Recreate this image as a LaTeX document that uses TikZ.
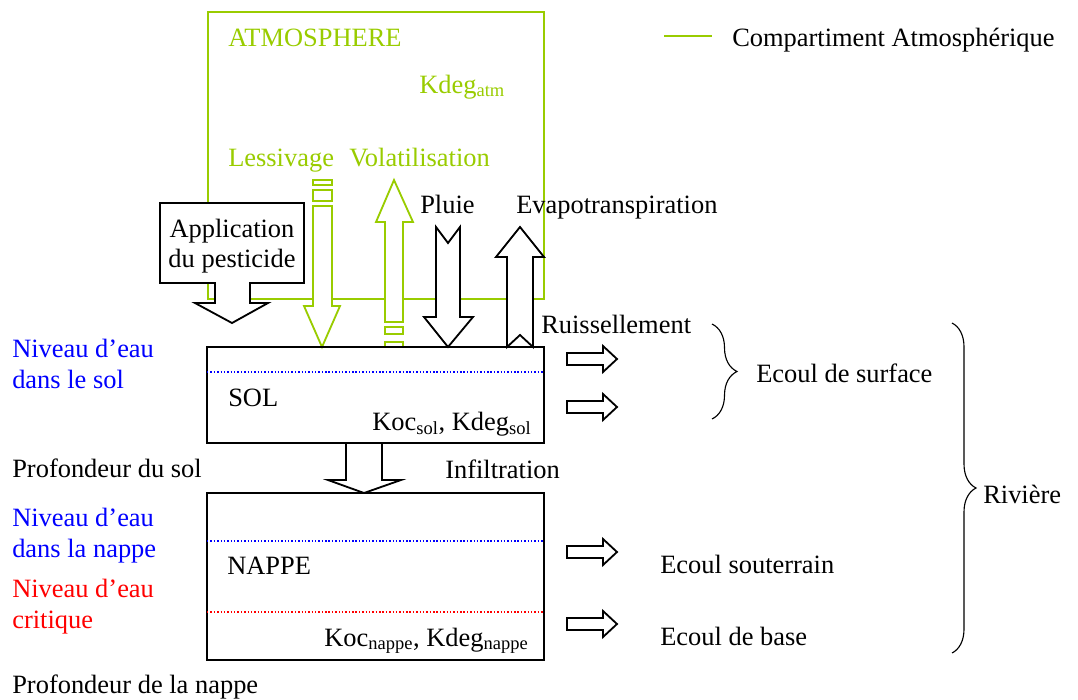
\documentclass[tikz,border=0pt]{standalone}
\usepackage{fontspec}
\setmainfont{Liberation Serif}
\usetikzlibrary{decorations.pathreplacing}
\definecolor{atmgreen}{RGB}{153,204,0}

\begin{document}
\begin{tikzpicture}[x=0.025cm, y=-0.025cm,
  lbl/.style={inner sep=0pt, font=\fontsize{18.8}{21.7}\selectfont},
  blockarrow/.style={draw=black, fill=white, line width=1.3pt, line join=miter},
  atmarrow/.style={blockarrow, draw=atmgreen},
  level/.style={line width=1pt, dash pattern=on 1pt off 1.4pt},
  flowbrace/.style={decorate, line width=0.8pt}]

\useasboundingbox (0,0) rectangle (1078,699);

% Atmosphere compartment and legend
\draw[atmgreen, line width=1.4pt] (208,12) rectangle (544,299);
\draw[atmgreen, line width=1.4pt] (664,36) -- (712,36);
\node[lbl, anchor=base west] (legend) at (732,46) {Compartiment Atmosphérique};
\node[lbl, atmgreen, anchor=base west] (atm) at (228,46) {ATMOSPHERE};
\node[lbl, atmgreen, anchor=base west] (kdegatm) at (419,93) {Kdeg\textsubscript{atm}};
\node[lbl, atmgreen, anchor=base west] (lessiv) at (228,166) {Lessivage};
\node[lbl, atmgreen, anchor=base west] (volat) at (349,166) {Volatilisation};

% Application du pesticide
\draw[blockarrow] (160,203) -- (304,203) -- (304,283) -- (250,283) -- (250,303) -- (268,303) -- (232,323)
  -- (195,303) -- (215,303) -- (215,283) -- (160,283) -- cycle;
\node[lbl, align=center] (appli) at (232,246) {Application\\du pesticide};

% Lessivage (down) and Volatilisation (up)
\draw[atmarrow] (313,180) rectangle (332,185);
\draw[atmarrow] (313,190) rectangle (332,201);
\draw[atmarrow] (313,206) -- (332,206) -- (332,306) -- (340,306) -- (322,347) -- (304,306) -- (313,306) -- cycle;
\draw[atmarrow] (385,322) -- (385,222) -- (376,222) -- (394,180) -- (413,222) -- (403,222) -- (403,322) -- cycle;
\draw[atmarrow] (385,327) rectangle (403,334);
\draw[atmarrow] (385,342) rectangle (403,347);

% Pluie and Evapotranspiration
\draw[blockarrow] (436,227) -- (448,243) -- (460,227) -- (460,317) -- (473,317) -- (448,347) -- (424,317) -- (436,317) -- cycle;
\draw[blockarrow] (507,347) -- (507,257) -- (496,257) -- (520,227) -- (544,257) -- (533,257) -- (533,347) -- (520,335) -- cycle;
\node[lbl, anchor=base west] (pluie) at (420,213) {Pluie};
\node[lbl, anchor=base west] (evap) at (516,213) {Evapotranspiration};

% Sol
\draw[line width=1.3pt] (207,347) rectangle (544,443);
\draw[level, blue] (207,372) -- (544,372);
\node[lbl, anchor=base west] (sol) at (228,406) {SOL};
\node[lbl, anchor=base west] (kocsol) at (372,430) {Koc\textsubscript{sol}, Kdeg\textsubscript{sol}};
\node[lbl, blue, anchor=base west, align=left] (nivsol) at (12,388) {Niveau d’eau\\dans le sol};
\node[lbl, anchor=base west] (profsol) at (12,477) {Profondeur du sol};

% Infiltration
\draw[blockarrow] (346,443) -- (382,443) -- (382,480) -- (401,480) -- (364,493) -- (328,480) -- (346,480) -- cycle;
\node[lbl, anchor=base west] (infil) at (445,478) {Infiltration};

% Nappe
\draw[line width=1.3pt] (207,493) rectangle (544,660);
\draw[level, blue] (207,541) -- (544,541);
\draw[level, red] (207,612) -- (544,612);
\node[lbl, anchor=base west] (nappe) at (227,574) {NAPPE};
\node[lbl, anchor=base west] (kocnappe) at (324,646) {Koc\textsubscript{nappe}, Kdeg\textsubscript{nappe}};
\node[lbl, blue, anchor=base west, align=left] (nivnappe) at (12,557) {Niveau d’eau\\dans la nappe};
\node[lbl, red, anchor=base west, align=left] (nivcrit) at (12,628) {Niveau d’eau\\critique};
\node[lbl, anchor=base west] (profnappe) at (12,693) {Profondeur de la nappe};

% Ecoulements vers la riviere
\foreach \c in {359,407,552,624}
  \draw[blockarrow] (567,\c-6) -- (603,\c-6) -- (603,\c-13) -- (617,\c) -- (603,\c+13) -- (603,\c+6) -- (567,\c+6) -- cycle;
\node[lbl, anchor=base west] (ruiss) at (541,333) {Ruissellement};
\node[lbl, anchor=base west] (souter) at (660,573) {Ecoul souterrain};
\node[lbl, anchor=base west] (base) at (660,645) {Ecoul de base};

\draw[flowbrace, decoration={brace, amplitude=0.625cm}] (712,324) -- (712,419);
\node[lbl, anchor=base west] (surf) at (756,382) {Ecoul de surface};
\draw[flowbrace, decoration={brace, amplitude=0.6cm}] (952,323) -- (952,653);
\node[lbl, anchor=base west] (riviere) at (983,503) {Rivière};
\end{tikzpicture}
\end{document}
